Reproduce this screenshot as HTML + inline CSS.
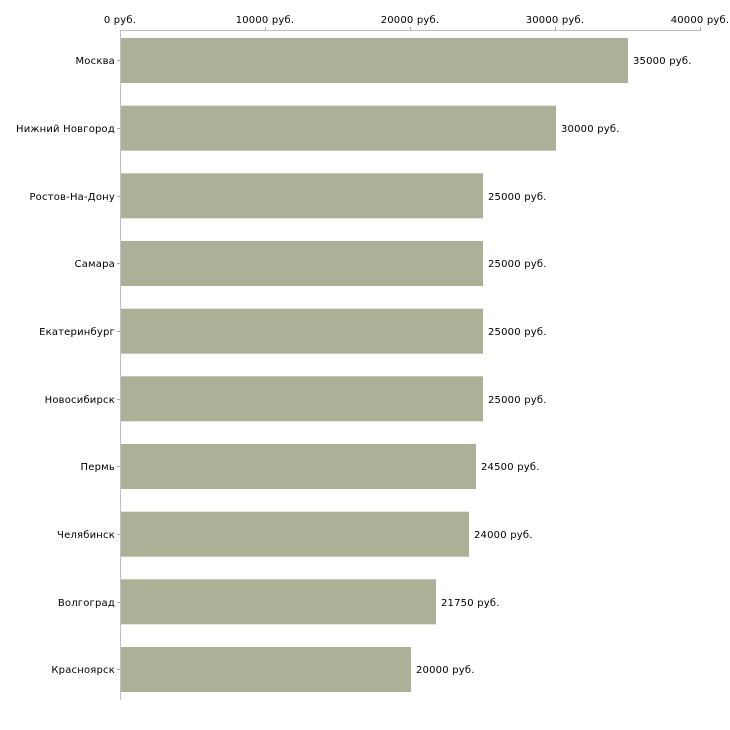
<!DOCTYPE html>
<html><head><meta charset="utf-8"><style>
html,body{margin:0;padding:0;background:#fff;}
svg{display:block;font-family:"DejaVu Sans","Liberation Sans",sans-serif;font-size:10px;letter-spacing:0.2px;fill:#000;}
</style></head><body>
<svg width="730" height="730" viewBox="0 0 730 730" xmlns="http://www.w3.org/2000/svg">
<g fill="#abb197">
<rect x="121" y="38" width="507" height="45"/>
<rect x="121" y="105.7" width="435" height="45"/>
<rect x="121" y="173.3" width="362" height="45"/>
<rect x="121" y="241" width="362" height="45"/>
<rect x="121" y="308.7" width="362" height="45"/>
<rect x="121" y="376.3" width="362" height="45"/>
<rect x="121" y="444" width="355" height="45"/>
<rect x="121" y="511.7" width="348" height="45"/>
<rect x="121" y="579.3" width="315" height="45"/>
<rect x="121" y="647" width="290" height="45"/>
</g>
<g stroke="#c0c0c0" stroke-width="1">
<line x1="120.5" y1="30" x2="120.5" y2="700"/>
<line x1="120" y1="30.5" x2="701" y2="30.5"/>
</g>
<g stroke="#abb197" stroke-width="1">
<line x1="265.5" y1="27" x2="265.5" y2="30"/>
<line x1="410.5" y1="27" x2="410.5" y2="30"/>
<line x1="555.5" y1="27" x2="555.5" y2="30"/>
<line x1="700.5" y1="27" x2="700.5" y2="30"/>
<line x1="117" y1="60.5" x2="120" y2="60.5"/>
<line x1="117" y1="128.5" x2="120" y2="128.5"/>
<line x1="117" y1="196.5" x2="120" y2="196.5"/>
<line x1="117" y1="263.5" x2="120" y2="263.5"/>
<line x1="117" y1="331.5" x2="120" y2="331.5"/>
<line x1="117" y1="399.5" x2="120" y2="399.5"/>
<line x1="117" y1="466.5" x2="120" y2="466.5"/>
<line x1="117" y1="534.5" x2="120" y2="534.5"/>
<line x1="117" y1="602.5" x2="120" y2="602.5"/>
<line x1="117" y1="669.5" x2="120" y2="669.5"/>
</g>
<g text-anchor="middle">
<text x="120" y="23">0 руб.</text>
<text x="265" y="23">10000 руб.</text>
<text x="410" y="23">20000 руб.</text>
<text x="555" y="23">30000 руб.</text>
<text x="700" y="23">40000 руб.</text>
</g>
<g text-anchor="end">
<text x="115" y="64">Москва</text>
<text x="115" y="132">Нижний Новгород</text>
<text x="115" y="200">Ростов-На-Дону</text>
<text x="115" y="267">Самара</text>
<text x="115" y="335">Екатеринбург</text>
<text x="115" y="403">Новосибирск</text>
<text x="115" y="470">Пермь</text>
<text x="115" y="538">Челябинск</text>
<text x="115" y="606">Волгоград</text>
<text x="115" y="673">Красноярск</text>
</g>
<g>
<text x="633" y="64">35000 руб.</text>
<text x="561" y="132">30000 руб.</text>
<text x="488" y="200">25000 руб.</text>
<text x="488" y="267">25000 руб.</text>
<text x="488" y="335">25000 руб.</text>
<text x="488" y="403">25000 руб.</text>
<text x="481" y="470">24500 руб.</text>
<text x="474" y="538">24000 руб.</text>
<text x="441" y="606">21750 руб.</text>
<text x="416" y="673">20000 руб.</text>
</g>
</svg>
</body></html>
